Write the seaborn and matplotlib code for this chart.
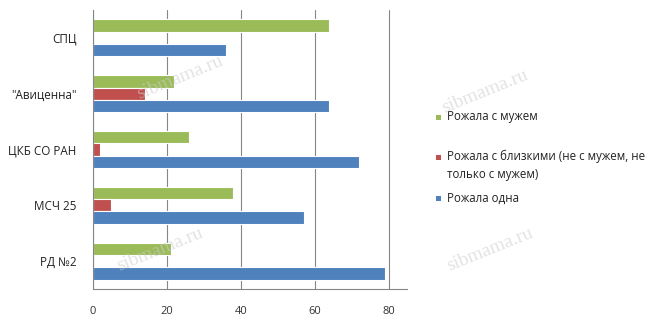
import matplotlib
matplotlib.use("Agg")
import matplotlib.pyplot as plt
import seaborn as sns
import pandas as pd
from matplotlib.patches import Rectangle
from matplotlib.ticker import FixedLocator

categories = ['СПЦ', '"Авиценна"', 'ЦКБ СО РАН', 'МСЧ 25', 'РД №2']
series = ['Рожала с мужем', 'Рожала с близкими (не с мужем, не\nтолько с мужем)', 'Рожала одна']
with_husband = [64, 22, 26, 38, 21]
with_relatives = [0, 14, 2, 5, 0]
alone = [36, 64, 72, 57, 79]
x_ticks = [0, 20, 40, 60, 80]
colors = ['#9BBB59', '#C0504D', '#4F81BD']

rows = []
for i, c in enumerate(categories):
    for s, vals in zip(series, [with_husband, with_relatives, alone]):
        rows.append({'cat': c, 'series': s, 'value': vals[i]})
df = pd.DataFrame(rows)

sns.set_style('white')
plt.rcParams['font.family'] = ['Open Sans', 'DejaVu Sans']

fig = plt.figure(figsize=(6.61, 3.32), dpi=100)
ax = fig.add_axes([93/661, 1-289/332, (407-93)/661, (289-10)/332])

sns.barplot(data=df, y='cat', x='value', hue='series', order=categories,
            hue_order=series, palette=colors, orient='h', width=0.66,
            edgecolor='white', linewidth=0.8, saturation=1, ax=ax, legend=False)

ax.set_xlim(0, 85)
ax.set_ylim(len(categories) - 0.5, -0.5)
ax.set_xticks(x_ticks)
ax.set_xticklabels([str(t) for t in x_ticks], fontsize=8, color='#333333')
ax.tick_params(axis='x', length=0, pad=12)
ax.tick_params(axis='y', which='major', length=0, pad=12, labelsize=8.4, labelcolor='#222222')
ax.yaxis.set_minor_locator(FixedLocator([i - 0.5 for i in range(len(categories) + 1)]))
ax.tick_params(axis='y', which='minor', length=4, color='#868686', width=0.8)
ax.set_xlabel('')
ax.set_ylabel('')
ax.grid(axis='x', color='#868686', linewidth=0.8)
ax.set_axisbelow(True)
for side in ['top', 'right']:
    ax.spines[side].set_visible(False)
for side in ['left', 'bottom']:
    ax.spines[side].set_color('#868686')
    ax.spines[side].set_linewidth(0.8)

# legend drawn manually
leg_y = [117, 157, 198]
for y, lab, col in zip(leg_y, series, colors):
    fig.patches.append(Rectangle((436/661, 1-(y+2.5)/332), 5/661, 5/332,
                                 transform=fig.transFigure, facecolor=col, edgecolor='none'))
    if '\n' in lab:
        fig.text(447/661, 1-(y-7)/332, lab, fontsize=8.3, color='#222222', va='top',
                 linespacing=1.45)
    else:
        fig.text(447/661, 1-y/332, lab, fontsize=8.3, color='#222222', va='center')

# watermarks
wm = [(485, 92), (490, 250), (180, 78), (160, 250)]
for x, y in wm:
    fig.text(x/661, 1-y/332, 'sibmama.ru', fontsize=14, family='Liberation Serif',
             color='#cccccc', alpha=0.55, rotation=22, ha='center', va='center', zorder=10)

fig.savefig('out.png', dpi=100)
